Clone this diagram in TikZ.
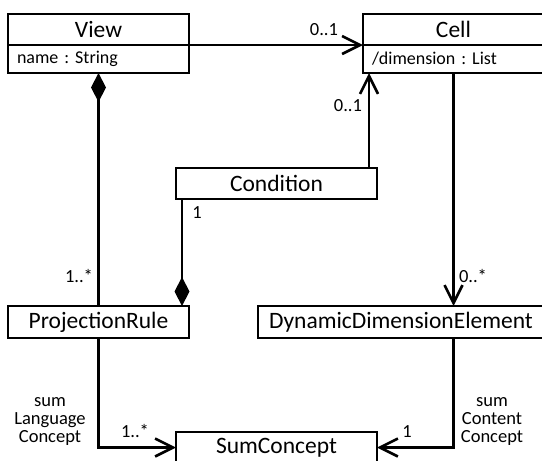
\documentclass[tikz,border=0pt]{standalone}
\usepackage{fontspec}
\setmainfont{Carlito}
\frenchspacing
\usetikzlibrary{arrows.meta,calc}

\tikzset{
  classbox/.style={draw, line width=2.6pt, inner sep=0pt, outer sep=0pt, minimum height=31pt, font=\fontsize{23.5}{25}\selectfont},
  attrbox/.style={draw, line width=2.6pt, inner xsep=9pt, inner ysep=0pt, outer sep=0pt, minimum height=28pt, align=left, anchor=north, font=\fontsize{18}{20}\selectfont},
  assoc/.style={line width=2.6pt, -{Straight Barb[length=18pt,width=18pt]}},
  compo/.style={line width=2.6pt, -{Diamond[length=29pt,width=15pt]}},
  mult/.style={inner sep=0pt, font=\fontsize{18.5}{20}\selectfont},
  rolename/.style={inner sep=0pt, align=center, font=\fontsize{18.5}{18}\selectfont},
}

\begin{document}
\begin{tikzpicture}[x=1pt,y=-1pt]
    \useasboundingbox (0,0) rectangle (542,461);

    % classes
    \node[classbox, minimum width=181pt] (view) at (98.5,29.5) {View};
    \node[attrbox, text width=163pt] (viewattr) at (view.south) {name : String};
    \node[classbox, minimum width=181pt] (cell) at (453.5,29.5) {Cell};
    \node[attrbox, text width=163pt] (cellattr) at (cell.south) {/dimension : List};
    \node[classbox, minimum width=201pt] (condition) at (276.5,183.5) {Condition};
    \node[classbox, minimum width=181pt, minimum height=32pt] (projrule) at (98.5,322) {ProjectionRule};
    \node[classbox, minimum width=286pt, minimum height=32pt] (dde) at (401,322) {DynamicDimensionElement};
    \node[classbox, minimum width=201pt] (sumconcept) at (276.5,447.5) {SumConcept};

    % helper points on the condition box
    \coordinate (condup) at ($(condition.north east)+(-8,0)$);
    \coordinate (conddown) at ($(condition.south west)+(6,0)$);

    % associations
    \draw[assoc] (view.south east) -- (cell.south west);
    \draw[compo] (projrule.north) -- (viewattr.south);
    \draw[assoc] (condup) -- (condup |- cellattr.south);
    \draw[compo] (conddown) -- (conddown |- projrule.north);
    \draw[assoc] (cellattr.south) -- (cellattr.south |- dde.north);
    \draw[assoc] (projrule.south) |- (sumconcept.west);
    \draw[assoc] (dde.south -| cellattr.south) |- (sumconcept.east);

    % multiplicities and role names
    \node[mult] (mviewcell) at (324,30) {0..1};
    \node[mult] (mviewrule) at (79,276) {1..*};
    \node[mult] (mcondcell) at (348,106) {0..1};
    \node[mult] (mcondrule) at (197,213) {1};
    \node[mult] (mcelldde) at (473,276) {0..*};
    \node[mult] (mrulesum) at (135,431) {1..*};
    \node[mult] (mddesum) at (407,432) {1};
    \node[rolename] (rlang) at (50,422) {sum\\Language\\Concept};
    \node[rolename] (rcont) at (492,422) {sum\\Content\\Concept};
\end{tikzpicture}
\end{document}
